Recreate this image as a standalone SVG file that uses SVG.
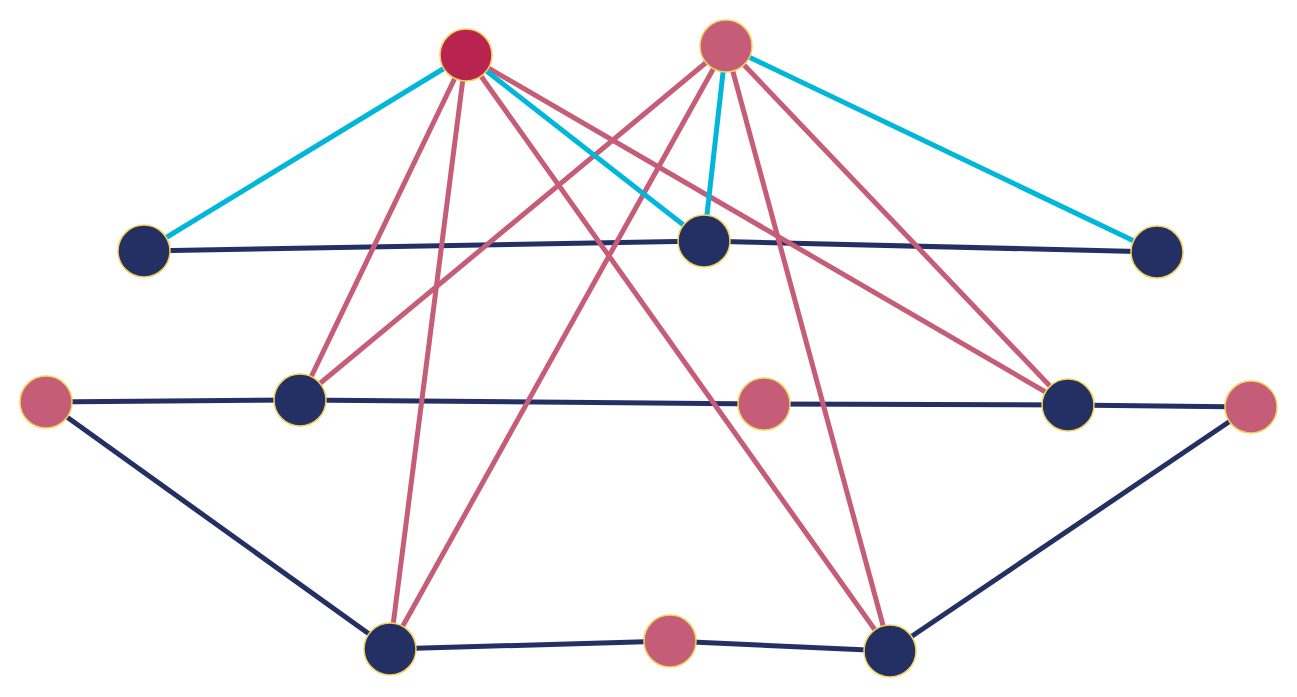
<svg xmlns="http://www.w3.org/2000/svg" width="1297" height="697" viewBox="0 0 1297 697">
<style>
.c{stroke:#00b7d9;stroke-width:5;fill:none}
.p{stroke:#c55c78;stroke-width:5;fill:none}
.n{stroke:#243064;stroke-width:5;fill:none}
.nv{fill:#243064;stroke:#f3d25a;stroke-width:1.5}
.pk{fill:#c55c78;stroke:#f3d25a;stroke-width:1.5}
.rd{fill:#b8244f;stroke:#f3d25a;stroke-width:1.5}
</style>
<rect width="1297" height="697" fill="#fff"/>
<g id="connectors">
<line class="n" x1="144" y1="251" x2="704" y2="241"/>
<line class="n" x1="704" y1="241" x2="1157" y2="252"/>
<line class="n" x1="46" y1="402" x2="300" y2="400"/>
<line class="n" x1="300" y1="400" x2="764" y2="404"/>
<line class="n" x1="764" y1="404" x2="1068" y2="405"/>
<line class="n" x1="1068" y1="405" x2="1251" y2="407"/>
<line class="n" x1="46" y1="402" x2="390" y2="649"/>
<line class="n" x1="390" y1="649" x2="670" y2="641"/>
<line class="n" x1="670" y1="641" x2="890" y2="651"/>
<line class="n" x1="890" y1="651" x2="1251" y2="407"/>
<line class="p" x1="466" y1="55" x2="300" y2="400"/>
<line class="p" x1="466" y1="55" x2="390" y2="649"/>
<line class="p" x1="466" y1="55" x2="890" y2="651"/>
<line class="p" x1="466" y1="55" x2="1068" y2="405"/>
<line class="p" x1="726" y1="46" x2="300" y2="400"/>
<line class="p" x1="726" y1="46" x2="390" y2="649"/>
<line class="p" x1="726" y1="46" x2="890" y2="651"/>
<line class="p" x1="726" y1="46" x2="1068" y2="405"/>
<line class="c" x1="466" y1="55" x2="144" y2="251"/>
<line class="c" x1="466" y1="55" x2="704" y2="241"/>
<line class="c" x1="726" y1="46" x2="704" y2="241"/>
<line class="c" x1="726" y1="46" x2="1157" y2="252"/>
</g>
<g id="A"><circle class="rd" cx="466" cy="55" r="26"/></g>
<g id="B"><circle class="pk" cx="726" cy="46" r="26"/></g>
<g id="C"><circle class="nv" cx="144" cy="251" r="26"/></g>
<g id="D"><circle class="nv" cx="704" cy="241" r="26"/></g>
<g id="E"><circle class="nv" cx="1157" cy="252" r="26"/></g>
<g id="F"><circle class="pk" cx="46" cy="402" r="26"/></g>
<g id="G"><circle class="nv" cx="300" cy="400" r="26"/></g>
<g id="H"><circle class="pk" cx="764" cy="404" r="26"/></g>
<g id="I"><circle class="nv" cx="1068" cy="405" r="26"/></g>
<g id="J"><circle class="pk" cx="1251" cy="407" r="26"/></g>
<g id="K"><circle class="nv" cx="390" cy="649" r="26"/></g>
<g id="L"><circle class="pk" cx="670" cy="641" r="26"/></g>
<g id="M"><circle class="nv" cx="890" cy="651" r="26"/></g>
</svg>
